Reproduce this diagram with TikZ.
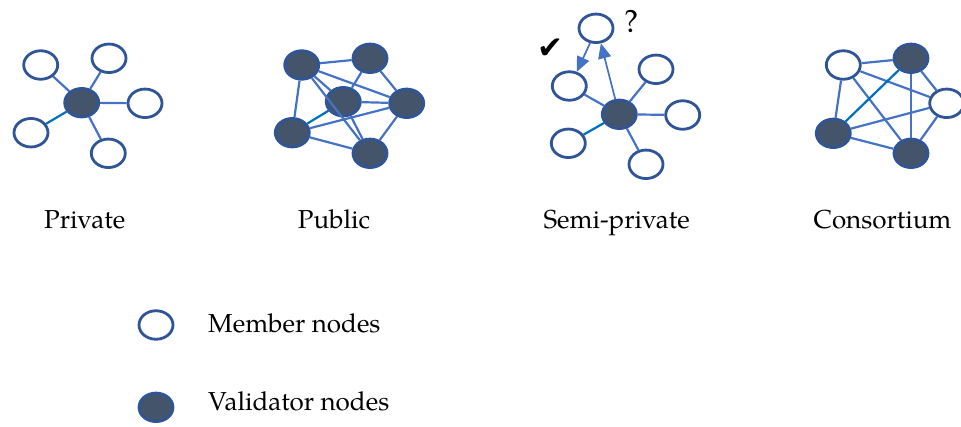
\documentclass[tikz,border=0pt]{standalone}
\usepackage{fontspec}
\setmainfont{TeX Gyre Pagella}
\newfontfamily\symfont{DejaVu Sans}
\usetikzlibrary{shapes.geometric,arrows.meta}
\definecolor{vfill}{HTML}{44546A}
\definecolor{outl}{HTML}{2F5597}
\definecolor{edgec}{HTML}{4472C4}
\definecolor{brightc}{HTML}{0070C0}
\tikzset{
  member/.style={ellipse,draw=outl,line width=2.8pt,fill=white,inner sep=0pt,minimum width=34pt,minimum height=28.5pt},
  validator/.style={member,fill=vfill},
  edge/.style={draw=edgec,line width=2.2pt},
  bedge/.style={draw=brightc,line width=2.2pt},
  arr/.style={draw=edgec,line width=1.7pt,-{Triangle[length=15pt,width=13pt]},fill=edgec},
  lbl/.style={font=\fontsize{26}{30}\selectfont,inner sep=0pt,anchor=base}
}
\begin{document}
\begin{tikzpicture}[x=1pt,y=-1pt]
\useasboundingbox (0,0) rectangle (961,426);
% ---------- Private ----------
\node[validator] (pv) at (81.7,102.7) {};
\node[member] (p1) at (40.7,65) {};
\node[member] (p2) at (109,58.3) {};
\node[member] (p3) at (145,103.3) {};
\node[member] (p4) at (31,132.7) {};
\node[member] (p5) at (108.3,153.3) {};
\draw[edge] (pv) -- (p1);
\draw[edge] (pv) -- (p2);
\draw[edge] (pv) -- (p3);
\draw[bedge] (pv) -- (p4);
\draw[edge] (pv) -- (p5);
% ---------- Public ----------
\node[validator] (ua) at (301.7,65) {};
\node[validator] (ub) at (370,58.3) {};
\node[validator] (uc) at (343.3,101.7) {};
\node[validator] (ud) at (406.7,103.3) {};
\node[validator] (ue) at (292.3,132.7) {};
\node[validator] (uf) at (370,153.3) {};
\draw[edge] (ua) -- (ub);
\draw[edge] (ua) -- (ue);
\draw[edge] (ua) -- (uc);
\draw[edge] (ua) -- (ud);
\draw[edge] (ua) -- (uf);
\draw[edge] (ub) -- (uc);
\draw[edge] (ub) -- (ud);
\draw[edge] (uc) -- (ud);
\draw[edge] (uc) -- (uf);
\draw[bedge] (uc) -- (ue);
\draw[edge] (ue) -- (ud);
\draw[edge] (ue) -- (uf);
\draw[edge] (ud) -- (uf);
% ---------- Semi-private ----------
\node[validator] (sv) at (619.3,114.3) {};
\node[member] (sq) at (596,28.3) {};
\node[member] (sl) at (569.3,86) {};
\node[member] (s2) at (656,69.3) {};
\node[member] (s3) at (682.7,115) {};
\node[member] (s4) at (568.3,143.3) {};
\node[member] (s5) at (646,164.3) {};
\draw[edge] (sv) -- (sl);
\draw[edge] (sv) -- (s2);
\draw[edge] (sv) -- (s3);
\draw[bedge] (sv) -- (s4);
\draw[edge] (sv) -- (s5);
\draw[arr] (sq.-112) -- (sl.62);
\draw[arr] (sv.105) -- (sq.-72);
\node[font=\symfont\fontsize{31}{33}\selectfont,inner sep=0pt] (chk) at (550,49) {✔};
\node[font=\fontsize{32}{34}\selectfont,inner sep=0pt] (qm) at (631.7,21) {?};
% ---------- Consortium ----------
\node[member] (ca) at (843.3,65) {};
\node[validator] (cb) at (911,58.3) {};
\node[member] (cc) at (946.7,103.3) {};
\node[validator] (cd) at (833.3,133.3) {};
\node[validator] (ce) at (911,153.3) {};
\draw[edge] (ca) -- (cb);
\draw[edge] (ca) -- (cd);
\draw[edge] (ca) -- (cc);
\draw[edge] (ca) -- (ce);
\draw[bedge] (cb) -- (cd);
\draw[edge] (cb) -- (cc);
\draw[edge] (cb) -- (ce);
\draw[edge] (cd) -- (cc);
\draw[edge] (cd) -- (ce);
\draw[edge] (cc) -- (ce);
% ---------- Labels ----------
\node[lbl] (l1) at (84.7,228.3) {Private};
\node[lbl] (l2) at (334,228.3) {Public};
\node[lbl] (l3) at (616.7,228.3) {Semi-private};
\node[lbl] (l4) at (882.5,228.3) {Consortium};
% ---------- Legend ----------
\node[member] (lm) at (156,325) {};
\node[validator] (lv) at (156,407.3) {};
\node[lbl,anchor=base west] (tm) at (208,332.3) {Member nodes};
\node[lbl,anchor=base west] (tv) at (208,410) {Validator nodes};
\end{tikzpicture}
\end{document}
